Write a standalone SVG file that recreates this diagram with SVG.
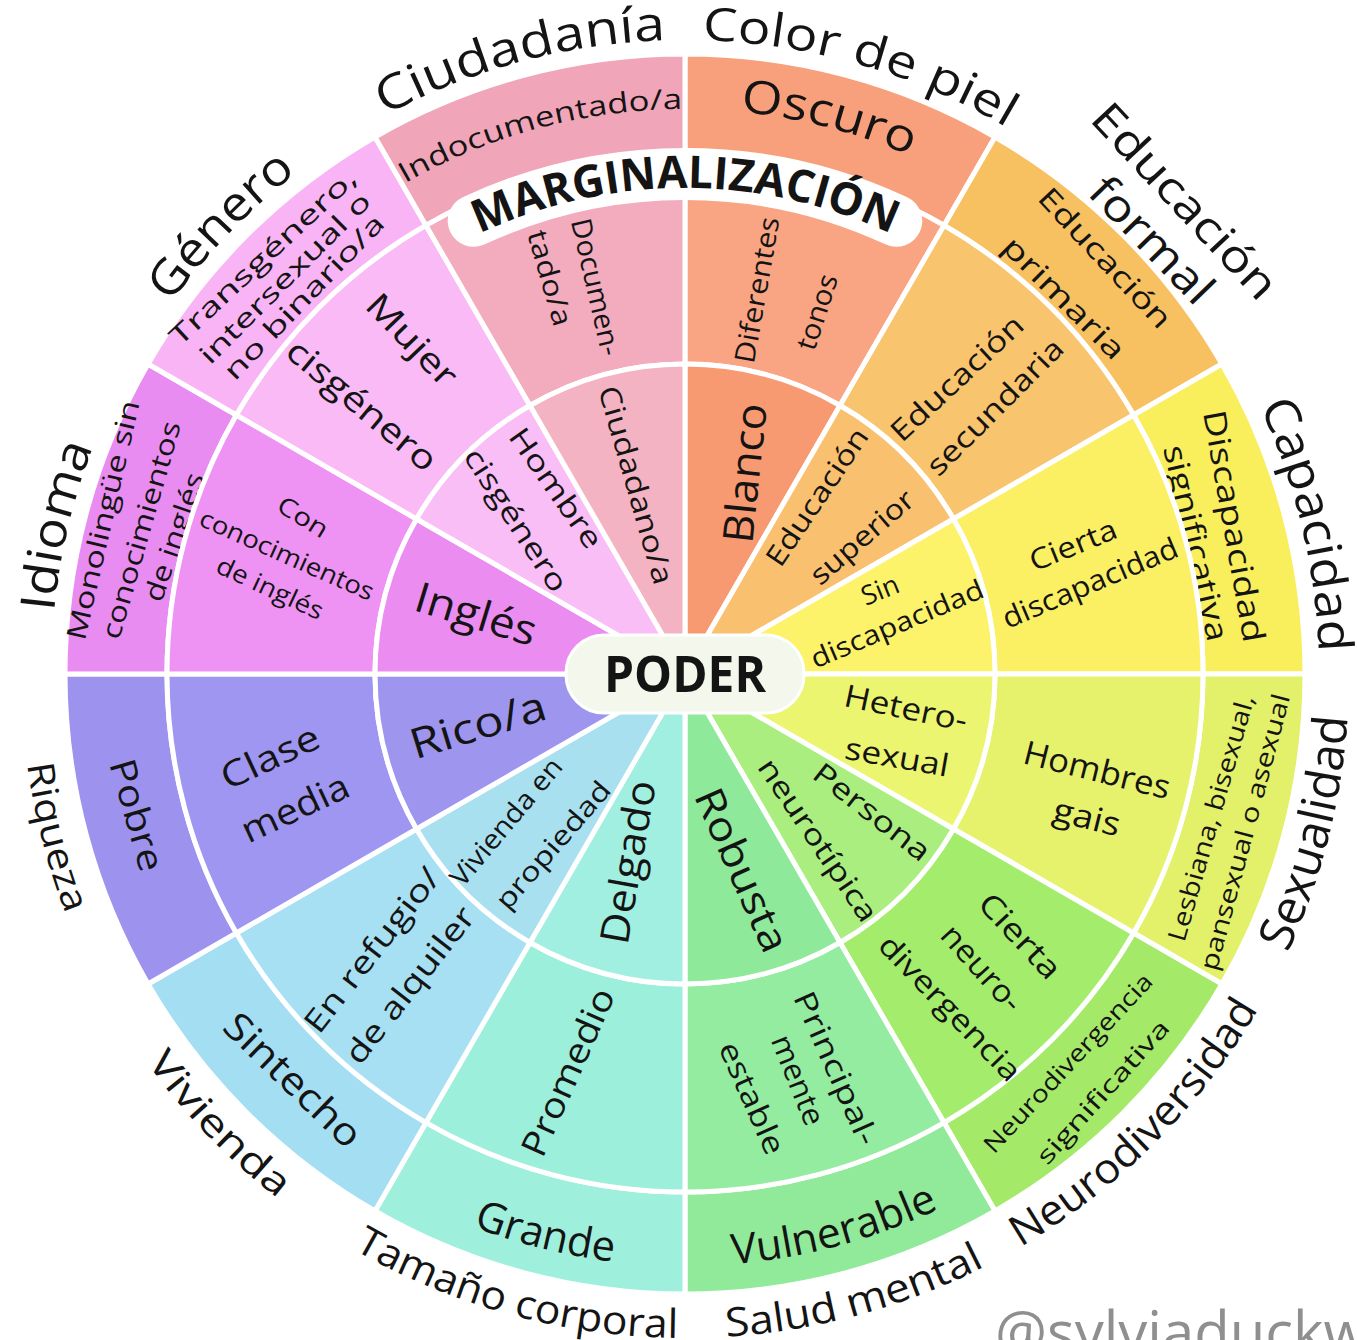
<svg xmlns="http://www.w3.org/2000/svg" width="1357" height="1340" viewBox="0 0 1357 1340">
<style>
text{font-family:"Open Sans","DejaVu Sans",sans-serif;fill:#141414;text-anchor:middle;font-weight:500}
.b{font-weight:700}
.wm{fill:#8f8f8f;text-anchor:start;font-weight:400}
</style>
<defs>
<path id="sIn" stroke="#fff" stroke-width="5" stroke-linejoin="round" d="M685,674 L685,364 A310,310 0 0 1 840,405.53 Z"/>
<path id="sMid" stroke="#fff" stroke-width="5" stroke-linejoin="round" d="M685,364 L685,156 A518,518 0 0 1 944,225.4 L840,405.53 A310,310 0 0 0 685,364 Z"/>
<path id="sOut" stroke="#fff" stroke-width="5" stroke-linejoin="round" d="M685,156 L685,54 A620,620 0 0 1 995,137.06 L944,225.4 A518,518 0 0 0 685,156 Z"/>
<path id="cw634" fill="none" d="M685,1308 A634,634 0 1 1 685,40 A634,634 0 1 1 685,1308"/>
<path id="cw565" fill="none" d="M685,1239 A565,565 0 1 1 685,109 A565,565 0 1 1 685,1239"/>
<path id="cw486" fill="none" d="M685,1160 A486,486 0 1 1 685,188 A486,486 0 1 1 685,1160"/>
<path id="ccw664" fill="none" d="M685,10 A664,664 0 1 0 685,1338 A664,664 0 1 0 685,10"/>
<path id="ccw592" fill="none" d="M685,82 A592,592 0 1 0 685,1266 A592,592 0 1 0 685,82"/>
</defs>
<rect width="1357" height="1340" fill="#fff"/>

<!-- Color de piel -->
<g id="piel-oscuro"><use href="#sOut" fill="#f8a07b"/>
<text font-size="46"><textPath href="#cw565" startOffset="1918" textLength="176" lengthAdjust="spacingAndGlyphs">Oscuro</textPath></text></g>
<g id="piel-tonos"><use href="#sMid" fill="#f9a483"/>
<text transform="translate(757 290) rotate(-80)" dy=".35em" font-size="28" textLength="148" lengthAdjust="spacingAndGlyphs">Diferentes</text>
<text transform="translate(817 312) rotate(-72)" dy=".35em" font-size="28" textLength="78" lengthAdjust="spacingAndGlyphs">tonos</text></g>
<g id="piel-blanco"><use href="#sIn" fill="#f89a71"/>
<text transform="translate(745 473) rotate(-84)" dy=".35em" font-size="42" textLength="140" lengthAdjust="spacingAndGlyphs">Blanco</text></g>

<!-- Educación -->
<g id="edu-primaria"><use href="#sOut" transform="rotate(30 685 674)" fill="#f7c162"/>
<text transform="translate(1105 258) rotate(47)" dy=".35em" font-size="29" textLength="180" lengthAdjust="spacingAndGlyphs">Educación</text>
<text transform="translate(1064 298) rotate(45)" dy=".35em" font-size="29" textLength="160" lengthAdjust="spacingAndGlyphs">primaria</text></g>
<g id="edu-secundaria"><use href="#sMid" transform="rotate(30 685 674)" fill="#f8c46d"/>
<text transform="translate(957 378) rotate(-43)" dy=".35em" font-size="29" textLength="170" lengthAdjust="spacingAndGlyphs">Educación</text>
<text transform="translate(995 407) rotate(-45)" dy=".35em" font-size="29" textLength="180" lengthAdjust="spacingAndGlyphs">secundaria</text></g>
<g id="edu-superior"><use href="#sIn" transform="rotate(30 685 674)" fill="#f9c070"/>
<text transform="translate(817 497) rotate(-56)" dy=".35em" font-size="28" textLength="160" lengthAdjust="spacingAndGlyphs">Educación</text>
<text transform="translate(862 537) rotate(-41)" dy=".35em" font-size="28" textLength="128" lengthAdjust="spacingAndGlyphs">superior</text></g>

<!-- Capacidad -->
<g id="cap-significativa"><use href="#sOut" transform="rotate(60 685 674)" fill="#f9ee5c"/>
<text transform="translate(1234 526) rotate(80)" dy=".35em" font-size="31" textLength="235" lengthAdjust="spacingAndGlyphs">Discapacidad</text>
<text transform="translate(1196 543) rotate(77)" dy=".35em" font-size="31" textLength="200" lengthAdjust="spacingAndGlyphs">significativa</text></g>
<g id="cap-cierta"><use href="#sMid" transform="rotate(60 685 674)" fill="#fbf063"/>
<text transform="translate(1073 545) rotate(-22)" dy=".35em" font-size="29" textLength="92" lengthAdjust="spacingAndGlyphs">Cierta</text>
<text transform="translate(1090 583) rotate(-23)" dy=".35em" font-size="29" textLength="188" lengthAdjust="spacingAndGlyphs">discapacidad</text></g>
<g id="cap-sin"><use href="#sIn" transform="rotate(60 685 674)" fill="#fdf36b"/>
<text transform="translate(880 590) rotate(-22)" dy=".35em" font-size="27">Sin</text>
<text transform="translate(897 624) rotate(-23)" dy=".35em" font-size="27" textLength="185" lengthAdjust="spacingAndGlyphs">discapacidad</text></g>

<!-- Sexualidad -->
<g id="sex-lgbt"><use href="#sOut" transform="rotate(90 685 674)" fill="#e3f06a"/>
<text transform="translate(1211 818) rotate(-74)" dy=".35em" font-size="25" textLength="255" lengthAdjust="spacingAndGlyphs">Lesbiana, bisexual,</text>
<text transform="translate(1245 832) rotate(-75)" dy=".35em" font-size="25" textLength="285" lengthAdjust="spacingAndGlyphs">pansexual o asexual</text></g>
<g id="sex-gais"><use href="#sMid" transform="rotate(90 685 674)" fill="#e7f26c"/>
<text transform="translate(1097 770) rotate(14)" dy=".35em" font-size="33" textLength="150" lengthAdjust="spacingAndGlyphs">Hombres</text>
<text transform="translate(1087 817) rotate(14)" dy=".35em" font-size="33" textLength="68" lengthAdjust="spacingAndGlyphs">gais</text></g>
<g id="sex-hetero"><use href="#sIn" transform="rotate(90 685 674)" fill="#ecf56f"/>
<text transform="translate(906 708) rotate(12)" dy=".35em" font-size="31" textLength="125" lengthAdjust="spacingAndGlyphs">Hetero-</text>
<text transform="translate(897 757) rotate(10)" dy=".35em" font-size="31" textLength="105" lengthAdjust="spacingAndGlyphs">sexual</text></g>

<!-- Neurodiversidad -->
<g id="neuro-significativa"><use href="#sOut" transform="rotate(120 685 674)" fill="#a4ea68"/>
<text transform="translate(1068 1063) rotate(-47)" dy=".35em" font-size="24" textLength="235" lengthAdjust="spacingAndGlyphs">Neurodivergencia</text>
<text transform="translate(1103 1092) rotate(-48)" dy=".35em" font-size="24" textLength="185" lengthAdjust="spacingAndGlyphs">significativa</text></g>
<g id="neuro-cierta"><use href="#sMid" transform="rotate(120 685 674)" fill="#a3ec6c"/>
<text transform="translate(1020 936) rotate(47)" dy=".35em" font-size="31" textLength="105" lengthAdjust="spacingAndGlyphs">Cierta</text>
<text transform="translate(982 968) rotate(48)" dy=".35em" font-size="31" textLength="105" lengthAdjust="spacingAndGlyphs">neuro-</text>
<text transform="translate(950 1008) rotate(46)" dy=".35em" font-size="30" textLength="190" lengthAdjust="spacingAndGlyphs">divergencia</text></g>
<g id="neuro-tipica"><use href="#sIn" transform="rotate(120 685 674)" fill="#a9ee7e"/>
<text transform="translate(872 812) rotate(38)" dy=".35em" font-size="29" textLength="140" lengthAdjust="spacingAndGlyphs">Persona</text>
<text transform="translate(818 840) rotate(56)" dy=".35em" font-size="29" textLength="190" lengthAdjust="spacingAndGlyphs">neurotípica</text></g>

<!-- Salud mental -->
<g id="salud-vulnerable"><use href="#sOut" transform="rotate(150 685 674)" fill="#91ea99"/>
<text font-size="42"><textPath href="#ccw592" startOffset="2014.8" textLength="215" lengthAdjust="spacingAndGlyphs">Vulnerable</textPath></text></g>
<g id="salud-estable"><use href="#sMid" transform="rotate(150 685 674)" fill="#93eca0"/>
<text transform="translate(836 1068) rotate(66)" dy=".35em" font-size="30" textLength="165" lengthAdjust="spacingAndGlyphs">Principal-</text>
<text transform="translate(798 1080) rotate(68)" dy=".35em" font-size="30" textLength="95" lengthAdjust="spacingAndGlyphs">mente</text>
<text transform="translate(752 1098) rotate(66)" dy=".35em" font-size="30" textLength="120" lengthAdjust="spacingAndGlyphs">estable</text></g>
<g id="salud-robusta"><use href="#sIn" transform="rotate(150 685 674)" fill="#8fe99b"/>
<text transform="translate(742 870) rotate(66)" dy=".35em" font-size="40" textLength="175" lengthAdjust="spacingAndGlyphs">Robusta</text></g>

<!-- Tamaño corporal -->
<g id="tam-grande"><use href="#sOut" transform="rotate(180 685 674)" fill="#9ef0dc"/>
<text font-size="42"><textPath href="#ccw592" startOffset="1715.2" textLength="145" lengthAdjust="spacingAndGlyphs">Grande</textPath></text></g>
<g id="tam-promedio"><use href="#sMid" transform="rotate(180 685 674)" fill="#9cefda"/>
<text transform="translate(568 1072) rotate(-66)" dy=".35em" font-size="35" textLength="180" lengthAdjust="spacingAndGlyphs">Promedio</text></g>
<g id="tam-delgado"><use href="#sIn" transform="rotate(180 685 674)" fill="#a1efe0"/>
<text transform="translate(628 862) rotate(-80)" dy=".35em" font-size="40" textLength="165" lengthAdjust="spacingAndGlyphs">Delgado</text></g>

<!-- Vivienda -->
<g id="viv-sintecho"><use href="#sOut" transform="rotate(210 685 674)" fill="#a4def2"/>
<text transform="translate(293 1080) rotate(44)" dy=".35em" font-size="38" textLength="175" lengthAdjust="spacingAndGlyphs">Sintecho</text></g>
<g id="viv-alquiler"><use href="#sMid" transform="rotate(210 685 674)" fill="#a7e0f2"/>
<text transform="translate(372 950) rotate(-52)" dy=".35em" font-size="31" textLength="200" lengthAdjust="spacingAndGlyphs">En refugio/</text>
<text transform="translate(410 985) rotate(-52)" dy=".35em" font-size="31" textLength="190" lengthAdjust="spacingAndGlyphs">de alquiler</text></g>
<g id="viv-propiedad"><use href="#sIn" transform="rotate(210 685 674)" fill="#a9e0f0"/>
<text transform="translate(506 822) rotate(-50)" dy=".35em" font-size="27" textLength="158" lengthAdjust="spacingAndGlyphs">Vivienda en</text>
<text transform="translate(553 845) rotate(-49)" dy=".35em" font-size="27" textLength="160" lengthAdjust="spacingAndGlyphs">propiedad</text></g>

<!-- Riqueza -->
<g id="riq-pobre"><use href="#sOut" transform="rotate(240 685 674)" fill="#9d93ef"/>
<text transform="translate(137 815) rotate(74)" dy=".35em" font-size="36" textLength="115" lengthAdjust="spacingAndGlyphs">Pobre</text></g>
<g id="riq-media"><use href="#sMid" transform="rotate(240 685 674)" fill="#9e96f0"/>
<text transform="translate(270 757) rotate(-25)" dy=".35em" font-size="36" textLength="105" lengthAdjust="spacingAndGlyphs">Clase</text>
<text transform="translate(295 808) rotate(-25)" dy=".35em" font-size="36" textLength="115" lengthAdjust="spacingAndGlyphs">media</text></g>
<g id="riq-rico"><use href="#sIn" transform="rotate(240 685 674)" fill="#9d95ee"/>
<text transform="translate(478 725) rotate(-17)" dy=".35em" font-size="42" textLength="140" lengthAdjust="spacingAndGlyphs">Rico/a</text></g>

<!-- Idioma -->
<g id="idi-monolingue"><use href="#sOut" transform="rotate(270 685 674)" fill="#e98cf2"/>
<text transform="translate(103 520) rotate(-77)" dy=".35em" font-size="27" textLength="245" lengthAdjust="spacingAndGlyphs">Monolingüe sin</text>
<text transform="translate(141 530) rotate(-74)" dy=".35em" font-size="27" textLength="225" lengthAdjust="spacingAndGlyphs">conocimientos</text>
<text transform="translate(174 537) rotate(-71)" dy=".35em" font-size="27" textLength="134" lengthAdjust="spacingAndGlyphs">de inglés</text></g>
<g id="idi-conocimientos"><use href="#sMid" transform="rotate(270 685 674)" fill="#ee93f4"/>
<text transform="translate(303 517) rotate(32)" dy=".35em" font-size="25" textLength="55" lengthAdjust="spacingAndGlyphs">Con</text>
<text transform="translate(287 555) rotate(24)" dy=".35em" font-size="25" textLength="188" lengthAdjust="spacingAndGlyphs">conocimientos</text>
<text transform="translate(270 588) rotate(25)" dy=".35em" font-size="25" textLength="115" lengthAdjust="spacingAndGlyphs">de inglés</text></g>
<g id="idi-ingles"><use href="#sIn" transform="rotate(270 685 674)" fill="#eb8cf1"/>
<text transform="translate(476 614) rotate(17)" dy=".35em" font-size="42" textLength="125" lengthAdjust="spacingAndGlyphs">Inglés</text></g>

<!-- Género -->
<g id="gen-trans"><use href="#sOut" transform="rotate(300 685 674)" fill="#f8b4f5"/>
<text transform="translate(263 257) rotate(-43)" dy=".35em" font-size="26" textLength="245" lengthAdjust="spacingAndGlyphs">Transgénero,</text>
<text transform="translate(285 278) rotate(-45)" dy=".35em" font-size="26" textLength="230" lengthAdjust="spacingAndGlyphs">intersexual o</text>
<text transform="translate(304 297) rotate(-46)" dy=".35em" font-size="26" textLength="218" lengthAdjust="spacingAndGlyphs">no binario/a</text></g>
<g id="gen-mujer"><use href="#sMid" transform="rotate(300 685 674)" fill="#f9baf6"/>
<text transform="translate(412 340) rotate(46)" dy=".35em" font-size="34" textLength="115" lengthAdjust="spacingAndGlyphs">Mujer</text>
<text transform="translate(362 405) rotate(40)" dy=".35em" font-size="34" textLength="185" lengthAdjust="spacingAndGlyphs">cisgénero</text></g>
<g id="gen-hombre"><use href="#sIn" transform="rotate(300 685 674)" fill="#fabef6"/>
<text transform="translate(556 488) rotate(55)" dy=".35em" font-size="29" textLength="140" lengthAdjust="spacingAndGlyphs">Hombre</text>
<text transform="translate(516 520) rotate(57)" dy=".35em" font-size="29" textLength="165" lengthAdjust="spacingAndGlyphs">cisgénero</text></g>

<!-- Ciudadanía -->
<g id="ciu-indocumentado"><use href="#sOut" transform="rotate(330 685 674)" fill="#f0a5b9"/>
<text font-size="28"><textPath href="#cw565" startOffset="1627" textLength="290" lengthAdjust="spacingAndGlyphs">Indocumentado/a</textPath></text></g>
<g id="ciu-documentado"><use href="#sMid" transform="rotate(330 685 674)" fill="#f3abbe"/>
<text transform="translate(596 287) rotate(77)" dy=".35em" font-size="28" textLength="140" lengthAdjust="spacingAndGlyphs">Documen-</text>
<text transform="translate(550 278) rotate(74)" dy=".35em" font-size="28" textLength="98" lengthAdjust="spacingAndGlyphs">tado/a</text></g>
<g id="ciu-ciudadano"><use href="#sIn" transform="rotate(330 685 674)" fill="#f4b3c3"/>
<text transform="translate(636 485) rotate(74)" dy=".35em" font-size="29" textLength="205" lengthAdjust="spacingAndGlyphs">Ciudadano/a</text></g>

<!-- Marginalización -->
<g id="marginalizacion">
<path d="M473.7,220.8 A500,500 0 0 1 896.3,220.8" fill="none" stroke="#fff" stroke-width="52" stroke-linecap="round"/>
<text class="b" font-size="45"><textPath href="#cw486" startOffset="1526.8" textLength="425" lengthAdjust="spacingAndGlyphs">MARGINALIZACIÓN</textPath></text>
</g>

<!-- Poder -->
<g id="poder">
<rect x="566" y="635" width="238" height="78" rx="38" fill="#f3f7ec" stroke="#fff" stroke-width="3"/>
<text class="b" x="685" y="674" dy=".35em" font-size="50" textLength="162" lengthAdjust="spacingAndGlyphs">PODER</text>
</g>

<!-- Category labels -->
<g id="cat-ciudadania"><text font-size="48"><textPath href="#cw634" startOffset="1825.8" textLength="293" lengthAdjust="spacingAndGlyphs">Ciudadanía</textPath></text></g>
<g id="cat-piel"><text font-size="46"><textPath href="#cw634" startOffset="2168.8" textLength="320" lengthAdjust="spacingAndGlyphs">Color de piel</textPath></text></g>
<g id="cat-educacion">
<text transform="translate(1185 201) rotate(47)" dy=".35em" font-size="44" textLength="250" lengthAdjust="spacingAndGlyphs">Educación</text>
<text transform="translate(1152 240) rotate(46)" dy=".35em" font-size="44" textLength="158" lengthAdjust="spacingAndGlyphs">formal</text></g>
<g id="cat-capacidad"><text font-size="48"><textPath href="#cw634" startOffset="2838.3" textLength="255" lengthAdjust="spacingAndGlyphs">Capacidad</textPath></text></g>
<g id="cat-sexualidad"><text font-size="48"><textPath href="#ccw664" startOffset="2963.3" textLength="245" lengthAdjust="spacingAndGlyphs">Sexualidad</textPath></text></g>
<g id="cat-neurodiversidad"><text font-size="42"><textPath href="#ccw664" startOffset="2607.5" textLength="340" lengthAdjust="spacingAndGlyphs">Neurodiversidad</textPath></text></g>
<g id="cat-salud"><text font-size="40"><textPath href="#ccw664" startOffset="2262.2" textLength="270" lengthAdjust="spacingAndGlyphs">Salud mental</textPath></text></g>
<g id="cat-tamano"><text font-size="40"><textPath href="#ccw664" startOffset="1908.7" textLength="340" lengthAdjust="spacingAndGlyphs">Tamaño corporal</textPath></text></g>
<g id="cat-vivienda"><text font-size="38"><textPath href="#ccw664" startOffset="1552.9" textLength="190" lengthAdjust="spacingAndGlyphs">Vivienda</textPath></text></g>
<g id="cat-riqueza"><text font-size="37"><textPath href="#ccw664" startOffset="1211.1" textLength="155" lengthAdjust="spacingAndGlyphs">Riqueza</textPath></text></g>
<g id="cat-idioma"><text font-size="48"><textPath href="#cw634" startOffset="1143.1" textLength="170" lengthAdjust="spacingAndGlyphs">Idioma</textPath></text></g>
<g id="cat-genero"><text font-size="48"><textPath href="#cw634" startOffset="1482.8" textLength="182" lengthAdjust="spacingAndGlyphs">Género</textPath></text></g>

<g id="connectors"></g>

<text class="wm" x="995" y="1353" font-size="58">@sylviaduckworth</text>
</svg>
